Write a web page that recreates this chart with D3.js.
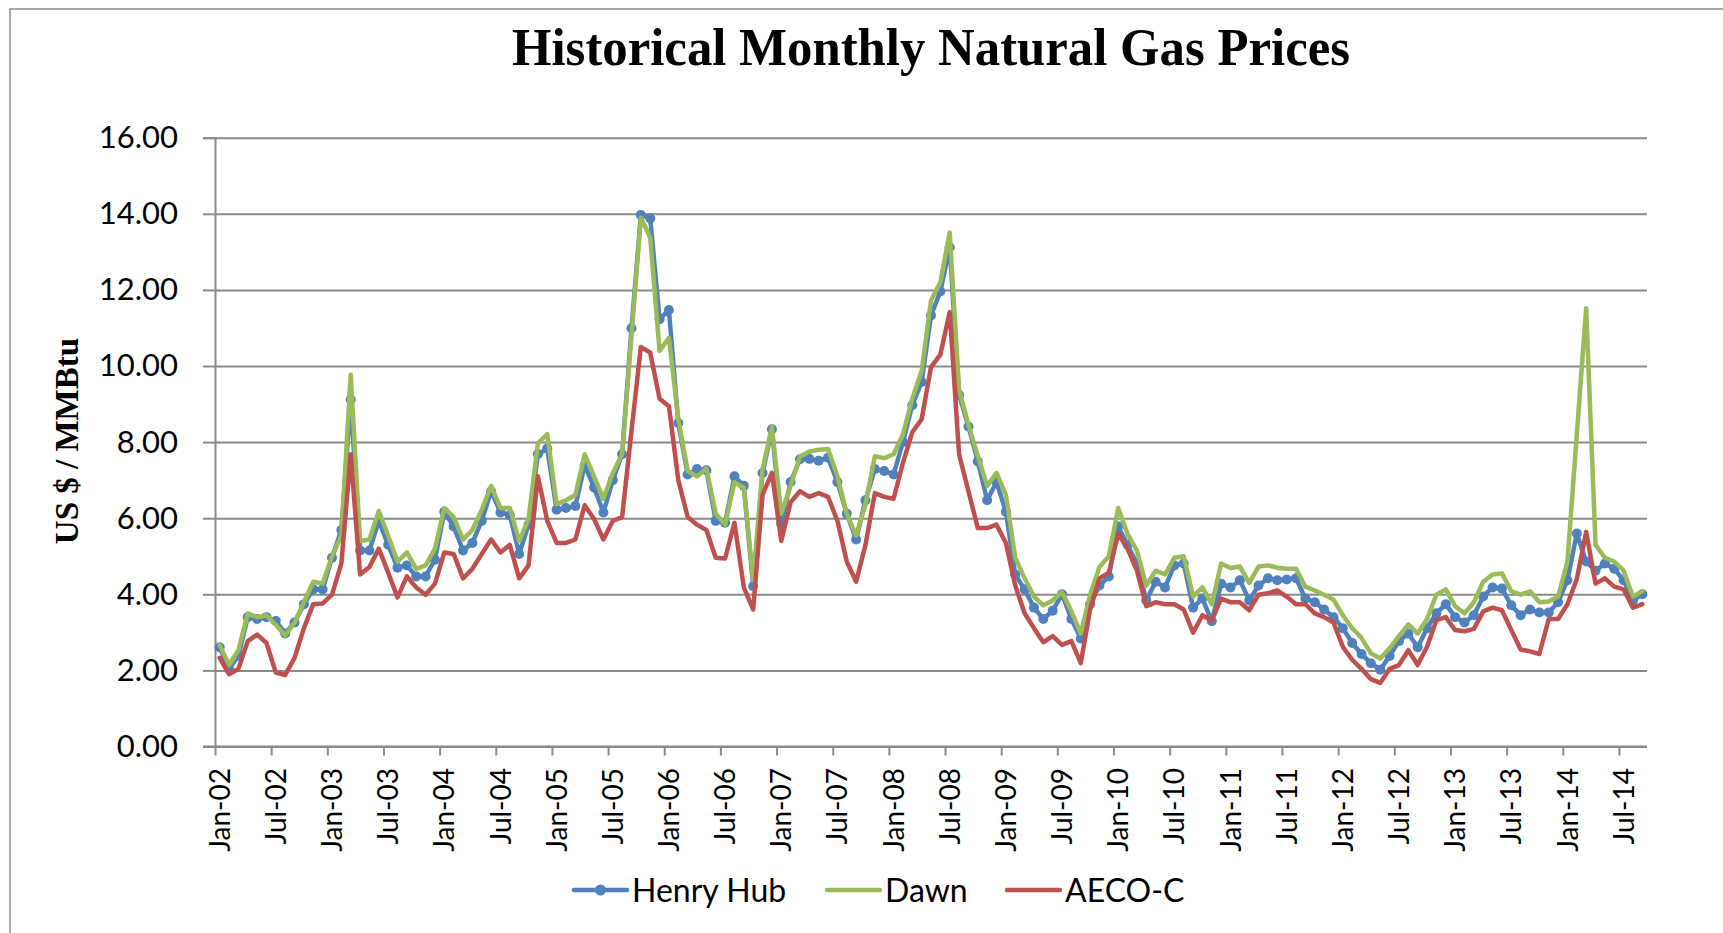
<!DOCTYPE html>
<html>
  <head>
    <script src="https://d3js.org/d3.v7.min.js"></script>
    <meta charset="utf-8">
    <title>Historical Monthly Natural Gas Prices</title>
    <style>
      body {
        margin: 0;
        background-color: #ffffff;
      }

      .tick text {
        font-family: Lato, "Open Sans", sans-serif;
        fill: #000000;
      }
    </style>
  </head>
  <body>
    <script>
      // Monthly prices, Jan-02 .. Sep-14 (US $ / MMBtu)
      const henryHub = [
        2.61, 2.04, 2.38, 3.40, 3.35, 3.40, 3.30, 2.97, 3.26, 3.74, 4.13, 4.13,
        4.96, 5.69, 9.12, 5.15, 5.15, 5.93, 5.30, 4.70, 4.76, 4.47, 4.47, 4.91,
        6.17, 5.78, 5.15, 5.35, 5.93, 6.71, 6.15, 6.08, 5.06, 5.83, 7.68, 7.83,
        6.22, 6.27, 6.32, 7.39, 6.81, 6.15, 7.00, 7.68, 10.99, 13.97, 13.88, 11.23,
        11.47, 8.50, 7.15, 7.29, 7.26, 5.93, 5.88, 7.10, 6.85, 4.21, 7.19, 8.34,
        5.85, 6.95, 7.55, 7.56, 7.51, 7.59, 6.95, 6.12, 5.44, 6.47, 7.29, 7.24,
        7.15, 8.00, 8.97, 9.58, 11.33, 11.96, 13.12, 9.24, 8.41, 7.49, 6.47, 6.95,
        6.17, 4.52, 4.13, 3.65, 3.35, 3.57, 4.00, 3.35, 2.84, 3.74, 4.23, 4.47,
        5.78, 5.30, 4.81, 3.84, 4.33, 4.18, 4.76, 4.81, 3.65, 3.89, 3.29, 4.28,
        4.18, 4.37, 3.84, 4.23, 4.42, 4.37, 4.39, 4.42, 3.89, 3.79, 3.60, 3.40,
        3.11, 2.72, 2.43, 2.19, 2.02, 2.38, 2.77, 2.97, 2.61, 3.11, 3.50, 3.74,
        3.40, 3.26, 3.45, 3.94, 4.18, 4.15, 3.71, 3.45, 3.60, 3.52, 3.52, 3.79,
        4.37, 5.60, 4.86, 4.62, 4.81, 4.67, 4.37, 3.84, 4.00
      ];

      const dawn = [
        2.67, 2.14, 2.53, 3.50, 3.40, 3.45, 3.20, 2.92, 3.26, 3.79, 4.33, 4.28,
        5.00, 5.54, 9.77, 5.40, 5.44, 6.19, 5.54, 4.86, 5.10, 4.67, 4.76, 5.20,
        6.27, 6.03, 5.44, 5.69, 6.22, 6.85, 6.27, 6.27, 5.40, 5.98, 7.97, 8.21,
        6.37, 6.47, 6.61, 7.68, 7.10, 6.51, 7.19, 7.68, 10.80, 13.90, 13.37, 10.40,
        10.74, 8.60, 7.24, 7.10, 7.31, 6.12, 5.83, 6.95, 6.80, 4.37, 7.29, 8.40,
        6.12, 6.85, 7.62, 7.75, 7.80, 7.82, 7.10, 6.12, 5.54, 6.37, 7.63, 7.58,
        7.68, 8.20, 9.14, 9.87, 11.72, 12.20, 13.51, 9.38, 8.46, 7.63, 6.85, 7.19,
        6.61, 4.96, 4.42, 3.94, 3.71, 3.84, 4.06, 3.55, 2.97, 3.99, 4.72, 5.00,
        6.27, 5.59, 5.15, 4.23, 4.62, 4.52, 4.96, 5.00, 3.94, 4.18, 3.74, 4.81,
        4.69, 4.73, 4.30, 4.73, 4.76, 4.70, 4.67, 4.67, 4.20, 4.10, 3.99, 3.86,
        3.45, 3.11, 2.85, 2.45, 2.31, 2.58, 2.90, 3.21, 2.97, 3.35, 3.99, 4.13,
        3.69, 3.50, 3.79, 4.33, 4.52, 4.55, 4.08, 3.99, 4.08, 3.79, 3.81, 3.94,
        4.86, 8.20, 11.52, 5.30, 4.96, 4.86, 4.62, 3.94, 4.08
      ];

      const aecoC = [
        2.33, 1.90, 2.04, 2.77, 2.94, 2.72, 1.94, 1.88, 2.33, 3.11, 3.74, 3.76,
        3.99, 4.81, 7.68, 4.52, 4.72, 5.20, 4.57, 3.92, 4.47, 4.18, 3.99, 4.28,
        5.10, 5.06, 4.42, 4.67, 5.06, 5.44, 5.10, 5.30, 4.42, 4.76, 7.10, 5.93,
        5.35, 5.35, 5.44, 6.34, 5.98, 5.44, 5.93, 6.03, 8.30, 10.50, 10.35, 9.14,
        8.94, 7.00, 6.03, 5.83, 5.69, 4.96, 4.94, 5.88, 4.18, 3.60, 6.61, 7.19,
        5.40, 6.42, 6.71, 6.56, 6.66, 6.56, 5.93, 4.86, 4.33, 5.30, 6.66, 6.56,
        6.51, 7.45, 8.26, 8.60, 9.97, 10.30, 11.42, 7.68, 6.71, 5.74, 5.74, 5.83,
        5.35, 4.23, 3.50, 3.11, 2.74, 2.90, 2.67, 2.77, 2.19, 3.60, 4.42, 4.57,
        5.59, 5.20, 4.62, 3.69, 3.79, 3.74, 3.74, 3.60, 2.99, 3.45, 3.31, 3.89,
        3.79, 3.79, 3.58, 3.99, 4.03, 4.10, 3.94, 3.74, 3.74, 3.50, 3.40, 3.26,
        2.62, 2.28, 2.04, 1.77, 1.67, 2.04, 2.14, 2.53, 2.14, 2.62, 3.32, 3.40,
        3.06, 3.03, 3.09, 3.55, 3.65, 3.58, 3.06, 2.55, 2.50, 2.43, 3.35, 3.35,
        3.74, 4.40, 5.64, 4.28, 4.42, 4.20, 4.13, 3.65, 3.74
      ];

      // Category axis labels, one every 6 months
      const xTickLabels = [
        "Jan-02", "Jul-02", "Jan-03", "Jul-03", "Jan-04", "Jul-04", "Jan-05",
        "Jul-05", "Jan-06", "Jul-06", "Jan-07", "Jul-07", "Jan-08", "Jul-08",
        "Jan-09", "Jul-09", "Jan-10", "Jul-10", "Jan-11", "Jul-11", "Jan-12",
        "Jul-12", "Jan-13", "Jul-13", "Jan-14", "Jul-14"
      ];
      const yTicks = [0, 2, 4, 6, 8, 10, 12, 14, 16];

      const seriesNames = ["Henry Hub", "Dawn", "AECO-C"];
      const seriesColors = ["#4f81bd", "#9bbb59", "#c0504d"];

      const width = 1723, height = 933;
      const plotLeft = 215, plotRight = 1647, plotTop = 137.7, plotBottom = 746.5;
      const gridColor = "#8a8a8a";

      const svg = d3.select("body")
        .append("svg")
        .attr("width", width)
        .attr("height", height);

      // outer chart border
      svg.append("rect")
        .attr("x", 10).attr("y", 9)
        .attr("width", 1800).attr("height", 1000)
        .attr("fill", "none")
        .attr("stroke", gridColor)
        .attr("stroke-width", 1.5);

      const x = d3.scaleLinear().domain([0, henryHub.length]).range([plotLeft, plotRight]);
      const y = d3.scaleLinear().domain([0, 16]).range([plotBottom, plotTop]);

      // horizontal gridlines
      svg.append("g")
        .attr("transform", `translate(${plotLeft},0)`)
        .call(d3.axisLeft(y).tickValues(yTicks).tickSize(-(plotRight - plotLeft)).tickFormat(""))
        .call(g => g.select(".domain").remove())
        .call(g => g.selectAll("line").attr("stroke", gridColor).attr("stroke-width", 2));

      // y axis with tick labels
      svg.append("g")
        .attr("transform", `translate(${plotLeft},0)`)
        .call(d3.axisLeft(y).tickValues(yTicks).tickSize(12).tickPadding(25)
          .tickFormat(d3.format(".2f")))
        .call(g => g.select(".domain").attr("stroke", gridColor).attr("stroke-width", 2))
        .call(g => g.selectAll("line").attr("stroke", gridColor).attr("stroke-width", 2))
        .call(g => g.selectAll("text").attr("font-size", 31));

      // x axis: ticks every 6 months, labels at the month's point
      svg.append("g")
        .attr("transform", `translate(0,${plotBottom})`)
        .call(d3.axisBottom(x).tickValues(d3.range(0, 151, 6)).tickSize(9).tickFormat(""))
        .call(g => g.select(".domain").attr("stroke", gridColor).attr("stroke-width", 2)
          .attr("d", `M${plotLeft - 12},0H${plotRight}`))
        .call(g => g.selectAll("line").attr("stroke", gridColor).attr("stroke-width", 2));

      svg.append("g")
        .selectAll("text")
        .data(xTickLabels)
        .enter()
        .append("text")
        .attr("transform", (d, i) => `translate(${x(i * 6 + 0.5)},768) rotate(-90)`)
        .attr("dy", "0.36em")
        .attr("text-anchor", "end")
        .attr("font-family", "Lato, sans-serif")
        .attr("font-size", 28)
        .text(d => d);

      // the three price lines, Henry Hub first so the others sit on top
      const line = d3.line()
        .x((d, i) => x(i + 0.5))
        .y(d => y(d));

      [henryHub, dawn, aecoC].forEach((values, k) => {
        svg.append("path")
          .datum(values)
          .attr("d", line)
          .attr("fill", "none")
          .attr("stroke", seriesColors[k])
          .attr("stroke-width", 4.5)
          .attr("stroke-linejoin", "round")
          .attr("stroke-linecap", "round");

        if (k === 0) {
          svg.append("g")
            .selectAll("circle")
            .data(values)
            .enter()
            .append("circle")
            .attr("cx", (d, i) => x(i + 0.5))
            .attr("cy", d => y(d))
            .attr("r", 5)
            .attr("fill", seriesColors[0]);
        }
      });

      // title
      svg.append("text")
        .attr("x", (plotLeft + plotRight) / 2)
        .attr("y", 65)
        .attr("text-anchor", "middle")
        .attr("font-family", "Liberation Serif, serif")
        .attr("font-weight", "bold")
        .attr("font-size", 52)
        .attr("textLength", 838)
        .attr("lengthAdjust", "spacingAndGlyphs")
        .text("Historical Monthly Natural Gas Prices");

      // y axis title
      svg.append("text")
        .attr("transform", "translate(78,441) rotate(-90)")
        .attr("text-anchor", "middle")
        .attr("font-family", "Liberation Serif, serif")
        .attr("font-weight", "bold")
        .attr("font-size", 33)
        .text("US $ / MMBtu");

      // legend
      const legendX = [574, 827, 1007];
      const legend = svg.append("g")
        .selectAll("g")
        .data(seriesNames)
        .enter()
        .append("g")
        .attr("transform", (d, i) => `translate(${legendX[i]},890)`);

      legend.append("line")
        .attr("x1", 0).attr("x2", 53)
        .attr("stroke", (d, i) => seriesColors[i])
        .attr("stroke-width", 4.5)
        .attr("stroke-linecap", "round");

      legend.filter((d, i) => i === 0)
        .append("circle")
        .attr("cx", 26.5)
        .attr("r", 5.5)
        .attr("fill", seriesColors[0]);

      legend.append("text")
        .attr("x", 58)
        .attr("y", 11.5)
        .attr("font-family", "Lato, sans-serif")
        .attr("font-size", 32)
        .text(d => d);
    </script>
  </body>
</html>
